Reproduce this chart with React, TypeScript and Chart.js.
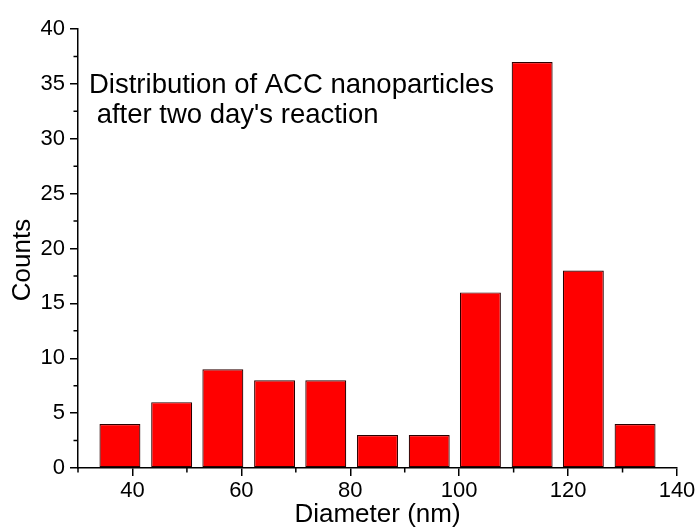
import React, { useEffect, useRef } from 'react';
import { Chart, registerables } from 'chart.js';

Chart.register(...registerables);

const diameters = [37.7, 47.2, 56.6, 66.1, 75.5, 85.0, 94.5, 103.9, 113.4, 122.8, 132.3];
const counts = [4, 6, 9, 8, 8, 3, 3, 16, 37, 18, 4];
const xMajorTicks = [40, 60, 80, 100, 120, 140];
const xMinorTicks = [30, 50, 70, 90, 110, 130];
const yMinorTicks = [2.5, 7.5, 12.5, 17.5, 22.5, 27.5, 32.5, 37.5];
const annotationLines = ['Distribution of ACC nanoparticles', " after two day's reaction"];
const xTitle = 'Diameter (nm)';
const yTitle = 'Counts';

const FONT = "'Liberation Sans', Arial, sans-serif";

const overlay = {
  id: 'overlay',
  afterDraw(chart: any) {
    const { ctx, chartArea, scales } = chart;
    const xs = scales.x;
    const ys = scales.y;
    ctx.save();
    ctx.strokeStyle = '#000';
    ctx.lineWidth = 1.5;
    ctx.beginPath();
    xMinorTicks.forEach((v) => {
      const px = xs.getPixelForValue(v);
      ctx.moveTo(px, chartArea.bottom);
      ctx.lineTo(px, chartArea.bottom + 4.5);
    });
    yMinorTicks.forEach((v) => {
      const py = ys.getPixelForValue(v);
      ctx.moveTo(chartArea.left - 4.5, py);
      ctx.lineTo(chartArea.left, py);
    });
    ctx.stroke();

    ctx.fillStyle = '#000';
    ctx.font = `27.5px ${FONT}`;
    ctx.textAlign = 'left';
    ctx.textBaseline = 'alphabetic';
    ctx.fillText(annotationLines[0], chartArea.left + 11, chartArea.top + 64);
    ctx.fillText(annotationLines[1], chartArea.left + 11, chartArea.top + 94);

    ctx.translate(23, 260);
    ctx.rotate(-Math.PI / 2);
    ctx.font = `26px ${FONT}`;
    ctx.textAlign = 'center';
    ctx.textBaseline = 'middle';
    ctx.fillText(yTitle, 0, 0);
    ctx.restore();
  },
};

export default function App() {
  const ref = useRef<HTMLCanvasElement | null>(null);

  useEffect(() => {
    if (!ref.current) return;
    const chart = new Chart(ref.current, {
      type: 'bar',
      data: {
        datasets: [
          {
            data: diameters.map((d, i) => ({ x: d, y: counts[i] })),
            backgroundColor: '#ff0000',
            borderColor: '#2a0000',
            borderWidth: 1.2,
            borderSkipped: false,
            barPercentage: 0.8,
            categoryPercentage: 1,
          },
        ],
      },
      options: {
        responsive: false,
        animation: false,
        devicePixelRatio: 1,
        layout: { padding: { top: 29, right: 23, left: 0, bottom: 0 } },
        plugins: {
          legend: { display: false },
          tooltip: { enabled: false },
        },
        scales: {
          x: {
            type: 'linear',
            offset: false,
            min: 30,
            max: 140,
            afterBuildTicks: (s: any) => {
              s.ticks = xMajorTicks.map((v) => ({ value: v }));
            },
            afterFit: (s: any) => {
              s.height = 62;
            },
            grid: { offset: false, drawOnChartArea: false, tickLength: 8, color: '#000', lineWidth: 1.5 },
            border: { color: '#000', width: 1.5 },
            ticks: {
              font: { family: FONT, size: 22 },
              color: '#000',
              padding: 2,
              maxRotation: 0,
              autoSkip: false,
            },
            title: {
              display: true,
              text: xTitle,
              font: { family: FONT, size: 26 },
              color: '#000',
              padding: 0,
            },
          },
          y: {
            min: 0,
            max: 40,
            ticks: {
              stepSize: 5,
              font: { family: FONT, size: 22 },
              color: '#000',
              padding: 5,
            },
            afterFit: (s: any) => {
              s.width = 78;
            },
            grid: { drawOnChartArea: false, tickLength: 8, color: '#000', lineWidth: 1.5 },
            border: { color: '#000', width: 1.5 },
            title: { display: false },
          },
        },
      },
      plugins: [overlay],
    });
    return () => chart.destroy();
  }, []);

  return (
    <div style={{ position: 'fixed', left: 0, top: 0, width: 700, height: 530, background: '#fff' }}>
      <canvas ref={ref} width={700} height={530} />
    </div>
  );
}
